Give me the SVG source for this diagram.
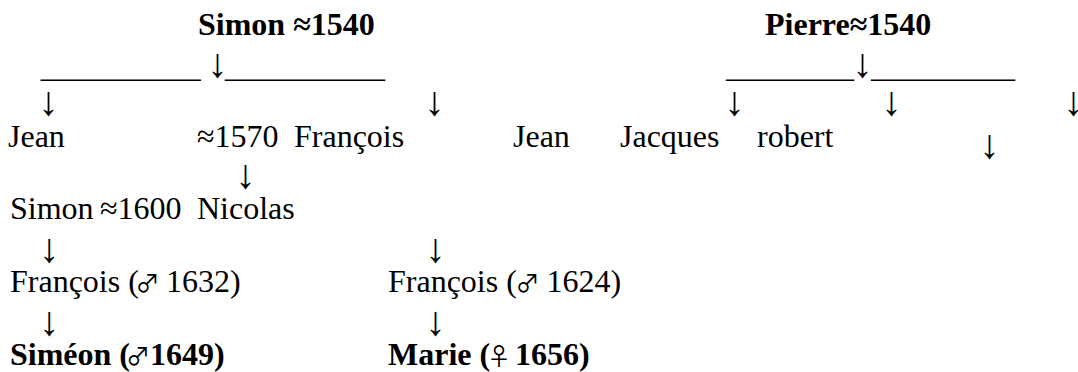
<svg xmlns="http://www.w3.org/2000/svg" width="1078" height="372" viewBox="0 0 1078 372">
<style>
  text { font-family: "Liberation Serif", "Times New Roman", serif; font-size: 32px; fill: #000; }
  .b { font-weight: bold; }
  .arr { font-size: 41px; font-weight: normal; }
  .sym { font-family: "Noto Sans CJK JP", "DejaVu Sans", sans-serif; font-weight: normal; font-size: 24px; }
</style>
<rect width="1078" height="372" fill="#fff"/>
<g id="connectors">
  <text y="76.5"><tspan x="40.7">__________</tspan><tspan class="arr" x="207.3">↓</tspan><tspan x="225">__________</tspan></text>
  <text y="76.5"><tspan x="726">________</tspan><tspan class="arr" x="852.3">↓</tspan><tspan x="871">_________</tspan></text>
  <text class="arr" x="38.3" y="115">↓</text>
  <text class="arr" x="424.3" y="115">↓</text>
  <text class="arr" x="724.3" y="115">↓</text>
  <text class="arr" x="881.3" y="115">↓</text>
  <text class="arr" x="1063.3" y="115">↓</text>
  <text class="arr" x="979.3" y="158">↓</text>
  <text class="arr" x="235.3" y="188">↓</text>
  <text class="arr" x="39" y="262">↓</text>
  <text class="arr" x="425.3" y="262">↓</text>
  <text class="arr" x="39" y="335">↓</text>
  <text class="arr" x="425.3" y="335">↓</text>
</g>
<g id="simon1540"><text class="b" x="198" y="35">Simon ≈1540</text></g>
<g id="pierre1540"><text class="b" x="765" y="35">Pierre≈1540</text></g>
<g id="jean1"><text x="8" y="147">Jean</text></g>
<g id="francois1570"><text y="147"><tspan x="197">≈1570</tspan><tspan x="294">François</tspan></text></g>
<g id="jean2"><text x="513" y="147">Jean</text></g>
<g id="jacques"><text x="620" y="147">Jacques</text></g>
<g id="robert"><text x="757" y="147">robert</text></g>
<g id="simon1600"><text y="219"><tspan x="10">Simon</tspan><tspan x="100">≈1600</tspan><tspan x="197">Nicolas</tspan></text></g>
<g id="francois1632"><text y="291.5"><tspan x="10">François (</tspan><tspan class="sym" x="135.5">♂</tspan><tspan x="166">1632)</tspan></text></g>
<g id="francois1624"><text y="291.5"><tspan x="388">François (</tspan><tspan class="sym" x="515.5">♂</tspan><tspan x="546.5">1624)</tspan></text></g>
<g id="simeon1649"><text class="b" y="365"><tspan x="10">Siméon (</tspan><tspan class="sym" x="126">♂</tspan><tspan x="150">1649)</tspan></text></g>
<g id="marie1656"><text class="b" y="365"><tspan x="388">Marie (</tspan><tspan class="sym" x="487">♀</tspan><tspan x="515">1656)</tspan></text></g>
</svg>
